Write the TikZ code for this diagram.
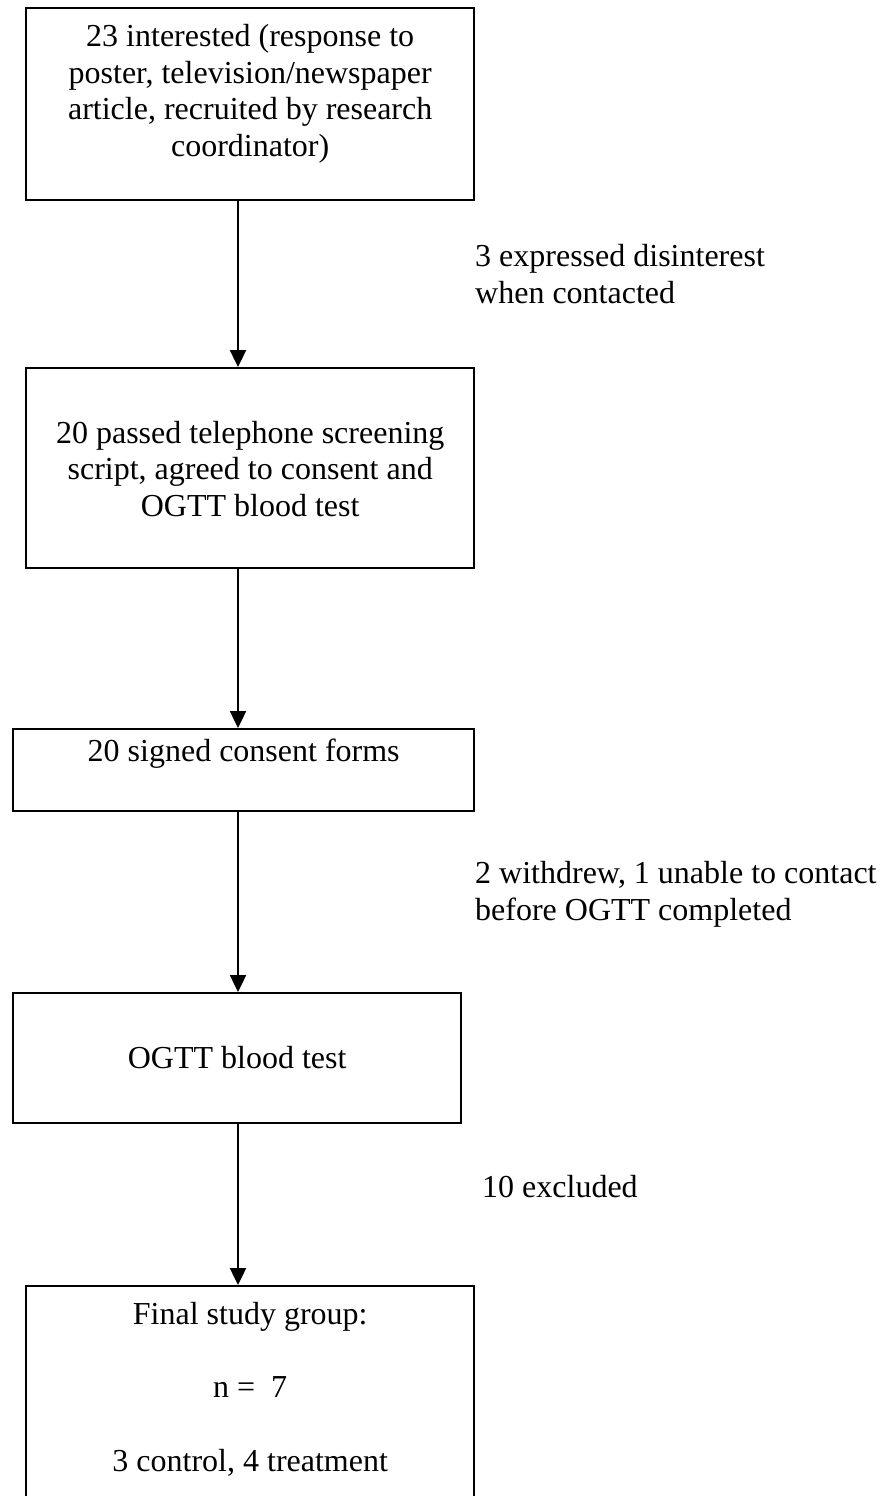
\documentclass[tikz,border=0pt]{standalone}
\usepackage{fontspec}
\setmainfont{Liberation Serif}
\usetikzlibrary{arrows.meta}

% extra depth under the last line of a box
\newcommand{\boxfoot}[1]{\rule[-#1]{0pt}{#1}}

\tikzset{
  flowbox/.style={draw, line width=2.4pt, anchor=north west, align=center,
    inner sep=0pt, font=\fontsize{32}{36.8}\selectfont},
  sidenote/.style={anchor=north west, align=left, inner sep=0pt,
    font=\fontsize{32}{36.8}\selectfont},
  flowarrow/.style={line width=2.4pt, -{Triangle[length=17pt,width=16pt]}}
}

\begin{document}
\begin{tikzpicture}[x=1pt, y=-1pt]
    % Page frame:
    \useasboundingbox (0, 0) rectangle (882, 1496);
    \clip (0, 0) rectangle (882, 1496);
    \coordinate (col) at (238, 0);
    % Boxes:
    \node[flowbox, minimum width=448pt, minimum height=192pt] (interested) at (25, 7)
        {\strut 23 interested (response to\\ \strut poster, television/newspaper\\
         \strut article, recruited by research\\ \strut coordinator)\boxfoot{31.36pt}};
    \node[flowbox, minimum width=448pt, minimum height=200pt] (screened) at (25, 367)
        {\strut\\ \strut 20 passed telephone screening\\ \strut script, agreed to consent and\\
         \strut OGTT blood test\boxfoot{39.36pt}};
    \node[flowbox, minimum width=461pt, minimum height=82pt] (consent) at (12, 728)
        {\strut 20 signed consent forms\boxfoot{43.76pt}};
    \node[flowbox, minimum width=448pt, minimum height=130pt] (ogtt) at (12, 992)
        {\strut\\ \strut OGTT blood test\boxfoot{42.96pt}};
    \node[flowbox, minimum width=448pt, minimum height=240pt] (final) at (25, 1285)
        {\strut Final study group:\\ \strut\\ \strut n = \ 7\\ \strut\\
         \strut 3 control, 4 treatment\boxfoot{42.56pt}};
    % Side notes:
    \node[sidenote] (disinterest) at (475, 241) {\strut 3 expressed disinterest\\ \strut when contacted};
    \node[sidenote] (withdrew) at (475, 858) {\strut 2 withdrew, 1 unable to contact\\ \strut before OGTT completed};
    \node[sidenote] (excluded) at (482, 1172) {\strut 10 excluded};
    % Arrows:
    \draw[flowarrow] (interested.south -| col) -- (screened.north -| col);
    \draw[flowarrow] (screened.south -| col) -- (consent.north -| col);
    \draw[flowarrow] (consent.south -| col) -- (ogtt.north -| col);
    \draw[flowarrow] (ogtt.south -| col) -- (final.north -| col);
\end{tikzpicture}
\end{document}
